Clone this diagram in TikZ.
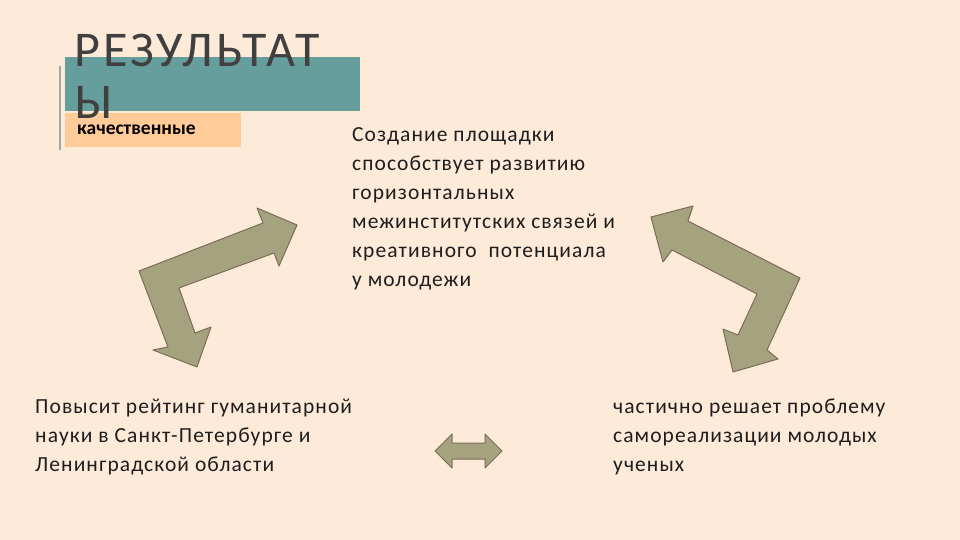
\documentclass[tikz,border=0pt]{standalone}
\usepackage{fontspec}
\setmainfont{Carlito}
\definecolor{bg}{HTML}{FDEAD8}
\definecolor{teal}{HTML}{659E9C}
\definecolor{peach}{HTML}{FFCB98}
\definecolor{arr}{HTML}{A5A27F}
\definecolor{arrb}{HTML}{7A6E55}
\definecolor{txt}{HTML}{1E1E1E}
\begin{document}
\begin{tikzpicture}[x=1pt,y=-1pt,
  arrow/.style={fill=arr,draw=arrb,line width=1pt,line join=round},
  body/.style={anchor=north west,align=left,font=\fontsize{21.5}{29}\selectfont\addfontfeature{LetterSpace=5},text=txt,inner sep=0pt}]
\useasboundingbox[fill=bg] (0,0) rectangle (960,540);
\fill[teal] (65,57) rectangle (360,111);
\fill[peach] (65,113) rectangle (241,147);
\draw[gray!70,line width=1.2pt] (60,66) -- (60,150);
\node[anchor=north west,inner sep=0pt,align=left,text=black!75,font=\fontsize{50}{52}\selectfont\addfontfeature{LetterSpace=6}] (title) at (74,34) {РЕЗУЛЬТАТ\\Ы};
\node[anchor=west,inner sep=0pt,font=\bfseries\fontsize{19.5}{22}\selectfont] (q) at (77,130) {качественные};
\node[body] (t1) at (352,127) {Создание площадки\\способствует развитию\\горизонтальных\\межинститутских связей и\\креативного\ \ потенциала\\у молодежи};
\node[body] (t2) at (35,399) {Повысит рейтинг гуманитарной\\науки в Санкт-Петербурге и\\Ленинградской области};
\node[body] (t3) at (613,399) {частично решает проблему\\самореализации молодых\\ученых};
\draw[arrow] (297,225) -- (279,266) -- (274,253) -- (179,288) -- (195,333) -- (211,327) -- (197,367) -- (153,350) -- (168,347) -- (139,271) -- (263,223) -- (257,208) -- cycle;
\draw[arrow] (651,217) -- (693,206) -- (688,221) -- (800,278) -- (767,350) -- (778,359) -- (733,372) -- (723,329) -- (738,335) -- (757,294) -- (672,250) -- (663,262) -- cycle;
\draw[arrow] (435,451) -- (452,434) -- (452,443) -- (485,443) -- (485,434) -- (502,451) -- (485,468) -- (485,459) -- (452,459) -- (452,468) -- cycle;
\end{tikzpicture}
\end{document}
